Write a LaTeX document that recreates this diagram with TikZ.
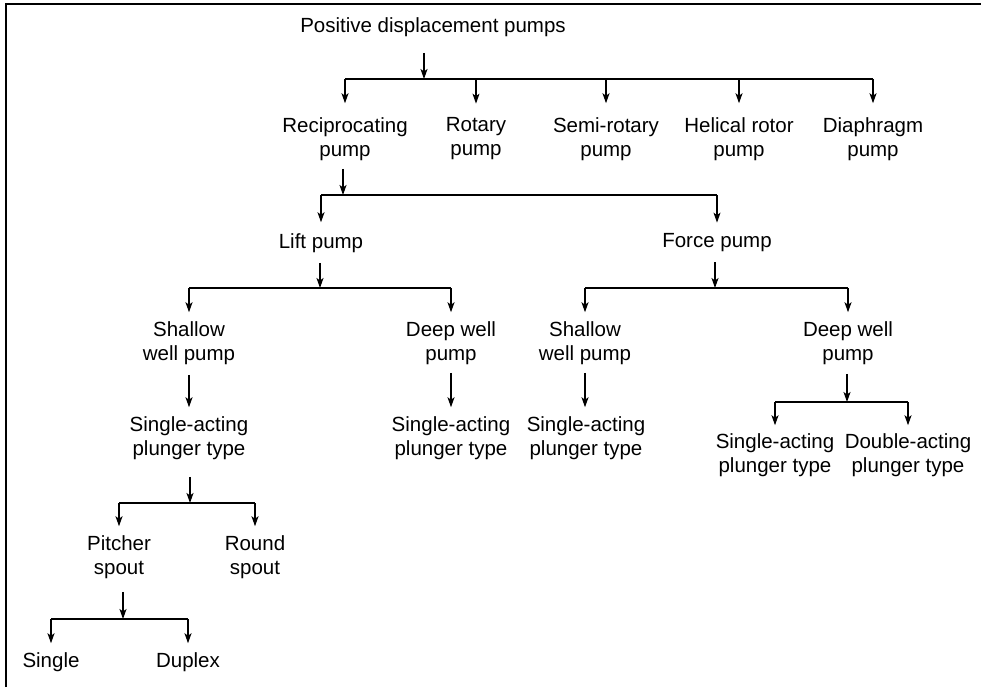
\documentclass[tikz,border=0pt]{standalone}
\usepackage{fontspec}
\setmainfont{Liberation Sans}
\usetikzlibrary{arrows.meta}
\begin{document}
\begin{tikzpicture}[x=1pt,y=-1pt,
  lbl/.style={align=center, inner sep=0pt, font=\fontsize{20.5}{24}\selectfont},
  link/.style={line width=1.2pt, draw=black},
  arr/.style={link, -{Stealth[length=10pt,width=7pt,inset=2.5pt]}},
  frame/.style={line width=2pt, line join=miter}]
\useasboundingbox (0,0) rectangle (981,687);

% frame: top and left edges
\draw[frame] (6,687) -- (6,4) -- (981,4);

% classification labels
\node[lbl] (title) at (433,27) {Positive displacement pumps};
\node[lbl] (rec)  at (345,139) {Reciprocating\\pump};
\node[lbl] (rot)  at (476,139) {Rotary\\pump};
\node[lbl] (semi) at (606,139) {Semi-rotary\\pump};
\node[lbl] (hel)  at (739,139) {Helical rotor\\pump};
\node[lbl] (dia)  at (873,139) {Diaphragm\\pump};

\node[lbl] (lift)  at (321,243) {Lift pump};
\node[lbl] (force) at (717,243) {Force pump};

\node[lbl] (lsh) at (189,343) {Shallow\\well pump};
\node[lbl] (ldw) at (451,343) {Deep well\\pump};
\node[lbl] (fsh) at (585,343) {Shallow\\well pump};
\node[lbl] (fdw) at (848,343) {Deep well\\pump};

\node[lbl] (lsa)  at (189,438) {Single-acting\\plunger type};
\node[lbl] (ldsa) at (451,438) {Single-acting\\plunger type};
\node[lbl] (fssa) at (586,438) {Single-acting\\plunger type};
\node[lbl] (fdsa) at (775,455) {Single-acting\\plunger type};
\node[lbl] (fdda) at (908,455) {Double-acting\\plunger type};

\node[lbl] (pit) at (119,557) {Pitcher\\spout};
\node[lbl] (rou) at (255,557) {Round\\spout};

\node[lbl] (sin) at (51,662) {Single};
\node[lbl] (dup) at (188,662) {Duplex};

% branch junctions
\coordinate (jt) at (424,79);
\coordinate (jr) at (343,195);
\coordinate (jl) at (320,288);
\coordinate (jf) at (715,288);
\coordinate (jd) at (847,402);
\coordinate (js) at (190,503);
\coordinate (jp) at (123,619);

% positive displacement pumps
\draw[arr, shorten <=16pt] (title.south -| jt) -- (jt);
\draw[link] (jt -| rec) -- (jt -| dia);
\foreach \c in {rec,rot,semi,hel,dia}
  \draw[arr, shorten >=14pt] (jt -| \c) -- (\c.north);

% reciprocating pump
\draw[arr, shorten <=8pt] (rec.south -| jr) -- (jr);
\draw[link] (jr -| lift) -- (jr -| force);
\foreach \c in {lift,force}
  \draw[arr, shorten >=11pt] (jr -| \c) -- (\c.north);

% lift pump
\draw[arr, shorten <=10pt] (lift.south -| jl) -- (jl);
\draw[link] (jl -| lsh) -- (jl -| ldw);
\foreach \c in {lsh,ldw}
  \draw[arr, shorten >=9pt] (jl -| \c) -- (\c.north);

% force pump
\draw[arr, shorten <=10pt] (force.south -| jf) -- (jf);
\draw[link] (jf -| fsh) -- (jf -| fdw);
\foreach \c in {fsh,fdw}
  \draw[arr, shorten >=9pt] (jf -| \c) -- (\c.north);

% single paths
\draw[arr, shorten <=10pt, shorten >=9pt] (lsh.south) -- (lsh.south |- lsa.north);
\draw[arr, shorten <=8pt, shorten >=9pt] (ldw.south) -- (ldw.south |- ldsa.north);
\draw[arr, shorten <=8pt, shorten >=9pt] (fsh.south) -- (fsh.south |- fssa.north);

% force deep well pump
\draw[arr, shorten <=9pt] (fdw.south -| jd) -- (jd);
\draw[link] (jd -| fdsa) -- (jd -| fdda);
\foreach \c in {fdsa,fdda}
  \draw[arr, shorten >=8pt] (jd -| \c) -- (\c.north);

% single-acting plunger type (lift, shallow well)
\draw[arr, shorten <=17pt] (lsa.south -| js) -- (js);
\draw[link] (js -| pit) -- (js -| rou);
\foreach \c in {pit,rou}
  \draw[arr, shorten >=9pt] (js -| \c) -- (\c.north);

% pitcher spout
\draw[arr, shorten <=13pt] (pit.south -| jp) -- (jp);
\draw[link] (jp -| sin) -- (jp -| dup);
\foreach \c in {sin,dup}
  \draw[arr, shorten >=9pt] (jp -| \c) -- (\c.north);
\end{tikzpicture}
\end{document}
